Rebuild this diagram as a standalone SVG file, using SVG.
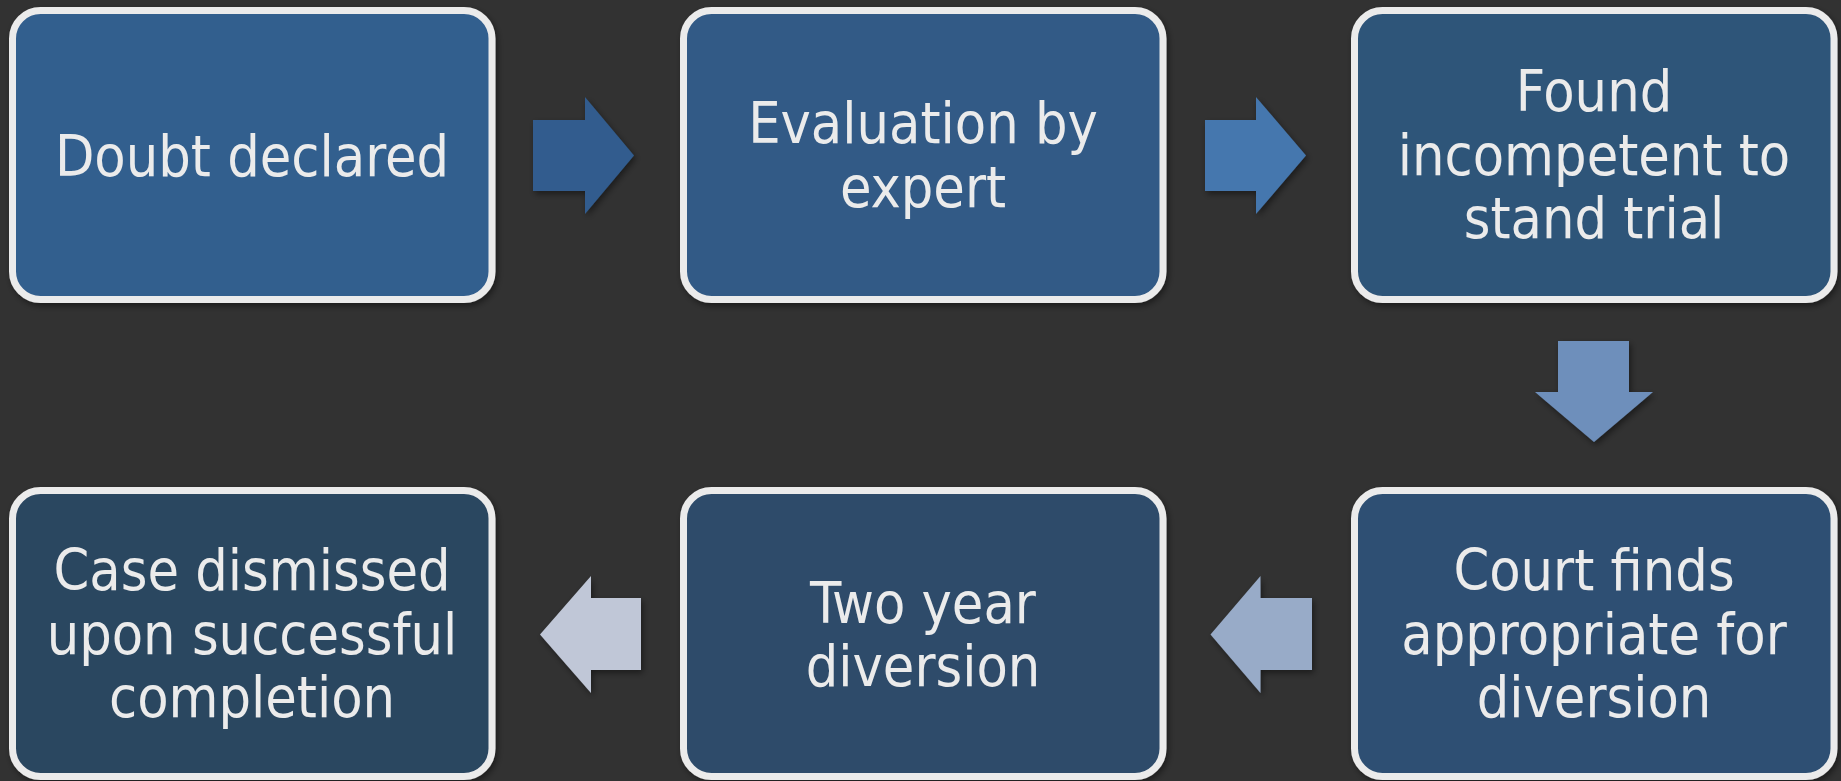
<svg xmlns="http://www.w3.org/2000/svg" width="1841" height="781" viewBox="0 0 1841 781">
  <defs>
    <filter id="shadow" x="-10%" y="-10%" width="120%" height="125%">
      <feDropShadow dx="2" dy="3" stdDeviation="3" flood-color="#000000" flood-opacity="0.45"/>
    </filter>
    <style>
      .box { stroke: #ebebeb; stroke-width: 7; filter: url(#shadow); }
      .lbl { font-family: 'DejaVu Sans Condensed', 'DejaVu Sans', sans-serif; font-stretch: condensed; font-size: 57px; fill: #ebebeb; text-anchor: middle; }
      .arrow { filter: url(#shadow); }
    </style>
  </defs>
  <rect x="0" y="0" width="1841" height="781" fill="#323232"/>

  <g id="node-doubt">
    <rect class="box" x="12.5" y="10.5" width="479.5" height="289" rx="28" fill="#335e8e"/>
    <text class="lbl" x="252" y="175.5">Doubt declared</text>
  </g>
  <g id="node-evaluation">
    <rect class="box" x="683.5" y="10.5" width="479.5" height="289" rx="28" fill="#315a86"/>
    <text class="lbl" x="923" y="143">Evaluation by</text>
    <text class="lbl" x="923" y="206.5">expert</text>
  </g>
  <g id="node-incompetent">
    <rect class="box" x="1354.5" y="10.5" width="479.5" height="289" rx="28" fill="#2f5479"/>
    <text class="lbl" x="1594" y="111">Found</text>
    <text class="lbl" x="1594" y="174.5">incompetent to</text>
    <text class="lbl" x="1594" y="238">stand trial</text>
  </g>
  <g id="node-court">
    <rect class="box" x="1354.5" y="490.5" width="479.5" height="286" rx="28" fill="#2e5073"/>
    <text class="lbl" x="1594" y="590">Court finds</text>
    <text class="lbl" x="1594" y="653.5">appropriate for</text>
    <text class="lbl" x="1594" y="717">diversion</text>
  </g>
  <g id="node-diversion">
    <rect class="box" x="683.5" y="490.5" width="479.5" height="286" rx="28" fill="#2d4b6a"/>
    <text class="lbl" x="923" y="622.5">Two year</text>
    <text class="lbl" x="923" y="686">diversion</text>
  </g>
  <g id="node-dismissed">
    <rect class="box" x="12.5" y="490.5" width="479.5" height="286" rx="28" fill="#2c4661"/>
    <text class="lbl" x="252" y="590">Case dismissed</text>
    <text class="lbl" x="252" y="653.5">upon successful</text>
    <text class="lbl" x="252" y="717">completion</text>
  </g>

  <g id="connectors">
    <polygon class="arrow" fill="#315c8e" points="533,120 585,120 585,97 634,155.5 585,214 585,191 533,191"/>
    <polygon class="arrow" fill="#4577ae" points="1205,120 1256,120 1256,97 1306,155.5 1256,214 1256,191 1205,191"/>
    <polygon class="arrow" fill="#6e8fbb" points="1558,341 1629,341 1629,392 1653,392 1594,442 1535,392 1558,392"/>
    <polygon class="arrow" fill="#98abc8" points="1312,598 1260.5,598 1260.5,576 1210.5,634.5 1260.5,693 1260.5,670 1312,670"/>
    <polygon class="arrow" fill="#c0c7d7" points="641,598 591,598 591,576 540,634.5 591,693 591,670 641,670"/>
  </g>
</svg>
